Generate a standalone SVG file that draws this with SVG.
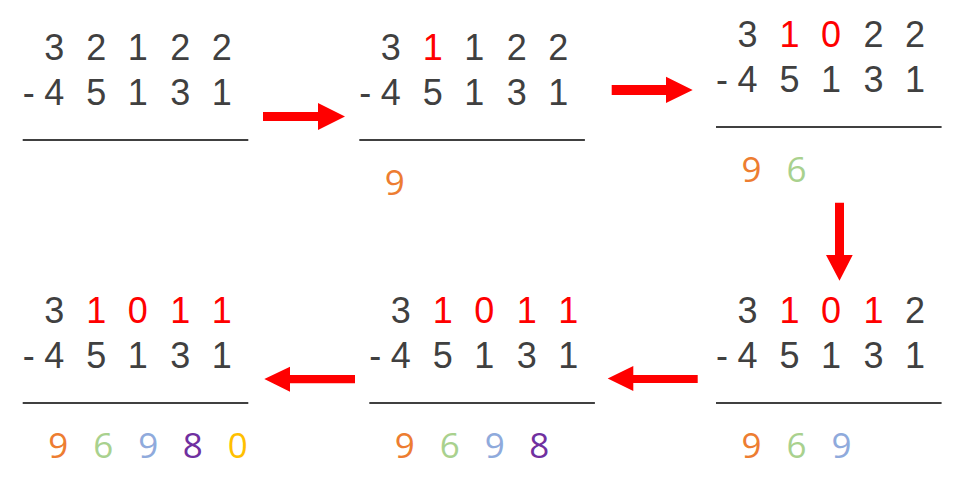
<svg xmlns="http://www.w3.org/2000/svg" width="977" height="491" viewBox="0 0 977 491">
<style>
.d{font-family:"Liberation Sans",Arial,sans-serif;font-size:36px;fill:#404040;text-anchor:middle}
.r{fill:#FF0000}
.a{font-family:"Open Sans","Noto Sans",sans-serif;font-size:35px;text-anchor:middle}
.rule{stroke:#404040;stroke-width:2.2}
.arr{fill:#FF0000}
.c1{fill:#ED7D31}.c2{fill:#A9D18E}.c3{fill:#8FAADC}.c4{fill:#7030A0}.c5{fill:#FFC000}
</style>
<rect width="977" height="491" fill="#fff"/>
<g id="step1" transform="translate(22.7,140)">
<text class="d" y="-80"><tspan x="31.5">3</tspan><tspan x="73.5">2</tspan><tspan x="115">1</tspan><tspan x="157.5">2</tspan><tspan x="199">2</tspan></text>
<text class="d" y="-35"><tspan x="6">-</tspan><tspan x="31.5">4</tspan><tspan x="73.5">5</tspan><tspan x="115">1</tspan><tspan x="157.5">3</tspan><tspan x="199">1</tspan></text>
<line class="rule" x1="0" y1="0" x2="225.6" y2="0"/>
</g>
<g id="step2" transform="translate(359.3,140)">
<text class="d" y="-80"><tspan x="31.5">3</tspan><tspan x="73.5" class="r">1</tspan><tspan x="115">1</tspan><tspan x="157.5">2</tspan><tspan x="199">2</tspan></text>
<text class="d" y="-35"><tspan x="6">-</tspan><tspan x="31.5">4</tspan><tspan x="73.5">5</tspan><tspan x="115">1</tspan><tspan x="157.5">3</tspan><tspan x="199">1</tspan></text>
<line class="rule" x1="0" y1="0" x2="225.6" y2="0"/>
<text class="a" y="55"><tspan x="35.5" class="c1">9</tspan></text>
</g>
<g id="step3" transform="translate(716,127)">
<text class="d" y="-80"><tspan x="31.5">3</tspan><tspan x="73.5" class="r">1</tspan><tspan x="115" class="r">0</tspan><tspan x="157.5">2</tspan><tspan x="199">2</tspan></text>
<text class="d" y="-35"><tspan x="6">-</tspan><tspan x="31.5">4</tspan><tspan x="73.5">5</tspan><tspan x="115">1</tspan><tspan x="157.5">3</tspan><tspan x="199">1</tspan></text>
<line class="rule" x1="0" y1="0" x2="225.6" y2="0"/>
<text class="a" y="55"><tspan x="35.5" class="c1">9</tspan><tspan x="80.5" class="c2">6</tspan></text>
</g>
<g id="step4" transform="translate(716,403)">
<text class="d" y="-80"><tspan x="31.5">3</tspan><tspan x="73.5" class="r">1</tspan><tspan x="115" class="r">0</tspan><tspan x="157.5" class="r">1</tspan><tspan x="199">2</tspan></text>
<text class="d" y="-35"><tspan x="6">-</tspan><tspan x="31.5">4</tspan><tspan x="73.5">5</tspan><tspan x="115">1</tspan><tspan x="157.5">3</tspan><tspan x="199">1</tspan></text>
<line class="rule" x1="0" y1="0" x2="225.6" y2="0"/>
<text class="a" y="55"><tspan x="35.5" class="c1">9</tspan><tspan x="80.5" class="c2">6</tspan><tspan x="125.5" class="c3">9</tspan></text>
</g>
<g id="step5" transform="translate(369.3,403)">
<text class="d" y="-80"><tspan x="31.5">3</tspan><tspan x="73.5" class="r">1</tspan><tspan x="115" class="r">0</tspan><tspan x="157.5" class="r">1</tspan><tspan x="199" class="r">1</tspan></text>
<text class="d" y="-35"><tspan x="6">-</tspan><tspan x="31.5">4</tspan><tspan x="73.5">5</tspan><tspan x="115">1</tspan><tspan x="157.5">3</tspan><tspan x="199">1</tspan></text>
<line class="rule" x1="0" y1="0" x2="225.6" y2="0"/>
<text class="a" y="55"><tspan x="35.5" class="c1">9</tspan><tspan x="80.5" class="c2">6</tspan><tspan x="125.5" class="c3">9</tspan><tspan x="170" class="c4">8</tspan></text>
</g>
<g id="step6" transform="translate(22.7,403)">
<text class="d" y="-80"><tspan x="31.5">3</tspan><tspan x="73.5" class="r">1</tspan><tspan x="115" class="r">0</tspan><tspan x="157.5" class="r">1</tspan><tspan x="199" class="r">1</tspan></text>
<text class="d" y="-35"><tspan x="6">-</tspan><tspan x="31.5">4</tspan><tspan x="73.5">5</tspan><tspan x="115">1</tspan><tspan x="157.5">3</tspan><tspan x="199">1</tspan></text>
<line class="rule" x1="0" y1="0" x2="225.6" y2="0"/>
<text class="a" y="55"><tspan x="35.5" class="c1">9</tspan><tspan x="80.5" class="c2">6</tspan><tspan x="125.5" class="c3">9</tspan><tspan x="170" class="c4">8</tspan><tspan x="215" class="c5">0</tspan></text>
</g>
<g id="connectors">
<polygon class="arr" points="263,112 318,112 318,103 345,116.5 318,130 318,121 263,121"/>
<polygon class="arr" points="611.7,85 666,85 666,76.7 692.7,90 666,103 666,95 611.7,95"/>
<polygon class="arr" points="835,202.7 844,202.7 844,255 852.7,255 839.5,280.7 826,255 835,255"/>
<polygon class="arr" points="697.7,375 633.3,375 633.3,366 607.7,378.5 633.3,391 633.3,383 697.7,383"/>
<polygon class="arr" points="355,375 290,375 290,366.7 264.3,379 290,391.7 290,383.3 355,383.3"/>
</g>
</svg>
